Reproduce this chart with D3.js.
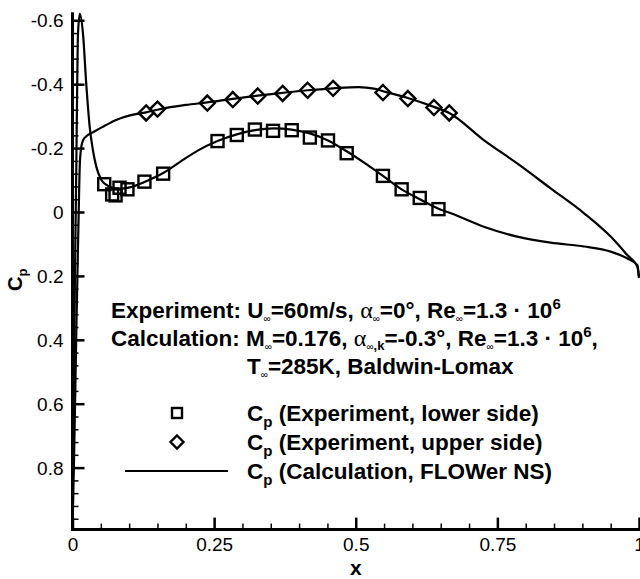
<!DOCTYPE html>
<html>
<head>
<meta charset="utf-8">
<script src="https://cdn.jsdelivr.net/npm/d3@7"></script>
<style>
  html, body { margin: 0; padding: 0; background: #fff; }
  svg { display: block; }
  text { font-family: "Liberation Sans", Arial, sans-serif; fill: #000; }
</style>
</head>
<body>
<svg id="chart" width="640" height="579"></svg>
<script>
// ---------------- data ----------------
// Experiment, lower side (squares)
const lowerExpX  = [0.056, 0.070, 0.076, 0.083, 0.097, 0.127, 0.160, 0.256, 0.290, 0.322, 0.354, 0.387, 0.419, 0.451, 0.484, 0.548, 0.581, 0.613, 0.646];
const lowerExpCp = [-0.087, -0.055, -0.052, -0.076, -0.071, -0.095, -0.120, -0.222, -0.241, -0.258, -0.254, -0.256, -0.233, -0.224, -0.184, -0.113, -0.071, -0.044, -0.009];
// Experiment, upper side (diamonds)
const upperExpX  = [0.130, 0.150, 0.238, 0.283, 0.327, 0.371, 0.415, 0.460, 0.548, 0.592, 0.638, 0.665];
const upperExpCp = [-0.310, -0.322, -0.341, -0.352, -0.363, -0.371, -0.381, -0.387, -0.374, -0.355, -0.327, -0.310];
// Calculation (FLOWer NS), lower side
const lowerCalcX  = [0, 0.002, 0.004, 0.0067, 0.008, 0.0097, 0.013, 0.0185, 0.0243, 0.0303, 0.036, 0.042, 0.051, 0.060, 0.070, 0.080, 0.090, 0.103, 0.127, 0.160, 0.190, 0.221, 0.256, 0.290, 0.322, 0.355, 0.387, 0.419, 0.451, 0.484, 0.520, 0.548, 0.581, 0.613, 0.646, 0.668, 0.726, 0.785, 0.844, 0.903, 0.950, 0.979, 0.997, 1.0];
const lowerCalcCp = [1.0, 0.60, 0.25, -0.14, -0.35, -0.558, -0.62, -0.558, -0.40, -0.267, -0.194, -0.142, -0.100, -0.085, -0.076, -0.073, -0.074, -0.078, -0.094, -0.122, -0.157, -0.192, -0.222, -0.243, -0.256, -0.262, -0.258, -0.246, -0.224, -0.190, -0.148, -0.113, -0.071, -0.040, -0.010, 0.004, 0.046, 0.077, 0.096, 0.108, 0.124, 0.145, 0.166, 0.205];
// Calculation (FLOWer NS), upper side
const upperCalcX  = [0, 0.003, 0.007, 0.0115, 0.0127, 0.0155, 0.0208, 0.0385, 0.056, 0.077, 0.103, 0.130, 0.150, 0.200, 0.238, 0.283, 0.327, 0.371, 0.415, 0.460, 0.505, 0.532, 0.548, 0.592, 0.638, 0.665, 0.726, 0.785, 0.844, 0.903, 0.950, 0.979, 0.997, 1.0];
const upperCalcCp = [1.0, 0.75, 0.35, -0.048, -0.14, -0.204, -0.231, -0.252, -0.269, -0.288, -0.303, -0.312, -0.320, -0.335, -0.343, -0.354, -0.364, -0.373, -0.381, -0.387, -0.391, -0.386, -0.378, -0.357, -0.329, -0.310, -0.225, -0.152, -0.074, 0.004, 0.077, 0.134, 0.171, 0.205];

const xTickValues = [0, 0.25, 0.5, 0.75, 1];
const xTickLabels = ["0", "0.25", "0.5", "0.75", "1"];
const yTickValues = [-0.6, -0.4, -0.2, 0, 0.2, 0.4, 0.6, 0.8];
const yTickLabels = ["-0.6", "-0.4", "-0.2", "0", "0.2", "0.4", "0.6", "0.8"];
const xMinorTicks = [0.05,0.1,0.15,0.2,0.3,0.35,0.4,0.45,0.55,0.6,0.65,0.7,0.8,0.85,0.9,0.95];
const yMinorTicks = [-0.56,-0.52,-0.48,-0.44,-0.36,-0.32,-0.28,-0.24,-0.16,-0.12,-0.08,-0.04,0.04,0.08,0.12,0.16,0.24,0.28,0.32,0.36,0.44,0.48,0.52,0.56,0.64,0.68,0.72,0.76,0.84,0.88,0.92,0.96];

const legendLabels = ["(Experiment, lower side)", "(Experiment, upper side)", "(Calculation, FLOWer NS)"];

// ---------------- scales ----------------
const svg = d3.select("#chart");
const x = d3.scaleLinear().domain([0, 1]).range([72.5, 639]);
const y = d3.scaleLinear().domain([-0.625, 0.994]).range([12.3, 529.6]);

svg.append("defs").append("clipPath").attr("id", "clip")
  .append("rect").attr("x", 72.5).attr("y", 0).attr("width", 568).attr("height", 529.6);

// ---------------- axes ----------------
const gx = svg.append("g").attr("transform", `translate(0,${y.range()[1]})`);
gx.call(d3.axisBottom(x).tickValues(xTickValues).tickFormat((d, i) => xTickLabels[i])
  .tickSizeInner(-12).tickSizeOuter(0).tickPadding(8));
const gxm = svg.append("g").attr("transform", `translate(0,${y.range()[1]})`);
gxm.call(d3.axisBottom(x).tickValues(xMinorTicks).tickFormat("").tickSizeInner(-6).tickSizeOuter(0));

const gy = svg.append("g").attr("transform", `translate(${x.range()[0]},0)`);
gy.call(d3.axisLeft(y).tickValues(yTickValues).tickFormat((d, i) => yTickLabels[i])
  .tickSizeInner(-12).tickSizeOuter(0).tickPadding(9));
const gym = svg.append("g").attr("transform", `translate(${x.range()[0]},0)`);
gym.call(d3.axisLeft(y).tickValues(yMinorTicks).tickFormat("").tickSizeInner(-6).tickSizeOuter(0));

[gx, gy].forEach(g => {
  g.select(".domain").attr("stroke", "#000").attr("stroke-width", 3);
  g.selectAll(".tick line").attr("stroke", "#000").attr("stroke-width", 2.5);
  g.selectAll(".tick text").attr("font-size", 19).attr("font-family", "Liberation Sans, Arial, sans-serif").attr("fill", "#000");
});
[gxm, gym].forEach(g => {
  g.select(".domain").remove();
  g.selectAll(".tick line").attr("stroke", "#000").attr("stroke-width", 1.5);
});
gy.selectAll(".tick text").attr("dy", "0.34em");
gx.selectAll(".tick text").attr("dy", "0.71em");
gx.select(".domain").attr("d", `M${x.range()[0] - 1.5},0H640`);
gy.select(".domain").attr("d", `M0,${y.range()[0]}V${y.range()[1] + 1.5}`);

// ---------------- lines ----------------
const line = d3.line().x(d => x(d[0])).y(d => y(d[1])).curve(d3.curveMonotoneX);
const plot = svg.append("g").attr("clip-path", "url(#clip)");
[[lowerCalcX, lowerCalcCp], [upperCalcX, upperCalcCp]].forEach(([xs, cs]) => {
  plot.append("path").datum(xs.map((v, i) => [v, cs[i]]))
    .attr("d", line).attr("fill", "none").attr("stroke", "#000").attr("stroke-width", 2.2);
});

// markers
const sq = 12;
svg.append("g").selectAll("rect").data(lowerExpX.map((v, i) => [v, lowerExpCp[i]])).join("rect")
  .attr("x", d => x(d[0]) - sq / 2).attr("y", d => y(d[1]) - sq / 2)
  .attr("width", sq).attr("height", sq)
  .attr("fill", "none").attr("stroke", "#000").attr("stroke-width", 2.4);
const dm = 7.5;
svg.append("g").selectAll("path").data(upperExpX.map((v, i) => [v, upperExpCp[i]])).join("path")
  .attr("d", d => { const cx = x(d[0]), cy = y(d[1]); return `M${cx},${cy - dm}L${cx + dm},${cy}L${cx},${cy + dm}L${cx - dm},${cy}Z`; })
  .attr("fill", "none").attr("stroke", "#000").attr("stroke-width", 2.4);

// ---------------- rich text helper ----------------
const FS = 22.5;
function rich(g, x0, y0, parts) {
  const t = g.append("text").attr("x", x0).attr("y", y0);
  let prev = 0;
  parts.forEach(p => {
    const shift = p.shift || 0;
    t.append("tspan")
      .attr("dy", shift - prev)
      .attr("font-size", p.size || FS)
      .attr("font-weight", p.weight || "bold")
      .attr("font-family", p.family || "Liberation Sans, Arial, sans-serif")
      .text(p.t);
    prev = shift;
  });
  return t;
}
const INF = { t: "\u221E", size: 10, weight: "normal", shift: 4 };
const ALPHA = { t: "\u03B1", size: 24, weight: "normal", family: "Liberation Serif, DejaVu Serif, serif" };
const SUP6 = { t: "6", size: 15, shift: -9 };

const ann = svg.append("g");
rich(ann, 111, 318, [
  { t: "Experiment: U" }, INF, { t: "=60m/s, " }, ALPHA, INF, { t: "=0\u00B0, Re" }, INF, { t: "=1.3 \u00B7 10" }, SUP6
]);
rich(ann, 111, 346, [
  { t: "Calculation: M" }, INF, { t: "=0.176, " }, ALPHA, INF, { t: ",k", size: 13, shift: 4 }, { t: "=-0.3\u00B0, Re" }, INF, { t: "=1.3 \u00B7 10" }, SUP6, { t: "," }
]);
rich(ann, 247, 374, [
  { t: "T" }, INF, { t: "=285K, Baldwin-Lomax" }
]);

// ---------------- legend ----------------
const lg = svg.append("g");
const rowsY = [413, 442, 471];
lg.append("rect").attr("x", 177 - 5).attr("y", rowsY[0] - 5).attr("width", 10).attr("height", 10)
  .attr("fill", "none").attr("stroke", "#000").attr("stroke-width", 2.4);
const ld = 6.5;
lg.append("path").attr("d", `M177,${rowsY[1] - ld}L${177 + ld},${rowsY[1]}L177,${rowsY[1] + ld}L${177 - ld},${rowsY[1]}Z`)
  .attr("fill", "none").attr("stroke", "#000").attr("stroke-width", 2.4);
lg.append("line").attr("x1", 125).attr("x2", 228).attr("y1", rowsY[2]).attr("y2", rowsY[2])
  .attr("stroke", "#000").attr("stroke-width", 2.2);
legendLabels.forEach((lab, i) => {
  rich(lg, 247, rowsY[i] + 8, [{ t: "C" }, { t: "p", size: 15, shift: 6 }, { t: " " + lab, shift: 0 }]);
});

// ---------------- axis titles ----------------
svg.append("text").attr("x", x(0.5)).attr("y", 575).attr("text-anchor", "middle")
  .attr("font-size", 21).attr("font-weight", "bold").text("x");
const yt = svg.append("g").attr("transform", "translate(22,291) rotate(-90)");
rich(yt, 0, 0, [{ t: "C", size: 20 }, { t: "p", size: 13, shift: 5 }]);
</script>
</body>
</html>
